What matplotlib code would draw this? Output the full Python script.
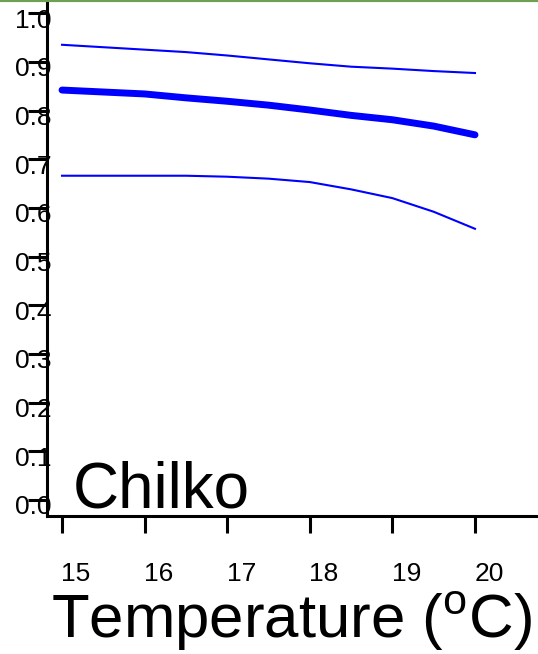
import numpy as np
import matplotlib.pyplot as plt
import matplotlib.transforms as mtransforms
from matplotlib.lines import Line2D

plt.rcParams['font.family'] = ['Liberation Sans', 'DejaVu Sans']
plt.rcParams['mathtext.fontset'] = 'custom'
plt.rcParams['mathtext.rm'] = 'Liberation Sans'

# survival estimate and its upper / lower bounds against temperature
temps = [15, 15.5, 16, 16.5, 17, 17.5, 18, 18.5, 19, 19.5, 20]
surv_mid = [0.842, 0.838, 0.834, 0.826, 0.819, 0.811, 0.801, 0.790, 0.781, 0.768, 0.750]
surv_hi = [0.935, 0.930, 0.925, 0.920, 0.913, 0.905, 0.897, 0.890, 0.886, 0.881, 0.877]
surv_lo = [0.666, 0.666, 0.666, 0.666, 0.664, 0.660, 0.653, 0.638, 0.620, 0.592, 0.557]

yticks = [0.0, 0.1, 0.2, 0.3, 0.4, 0.5, 0.6, 0.7, 0.8, 0.9, 1.0]
xticks = [15, 16, 17, 18, 19, 20]
stock = "Chilko"

fig = plt.figure(figsize=(5.38, 6.54), dpi=100)
ax = fig.add_axes([47/538, 138/654, 1 - 47/538, 516/654])

x = np.array(temps)
ax.plot(x, surv_hi, color='#0000ff', lw=1.5)
ax.plot(x, surv_lo, color='#0000ff', lw=1.5)
ax.plot(x, surv_mid, color='#0000ff', lw=5, solid_capstyle='round')

ax.set_xlim(14.818, 20.763)
ax.set_ylim(-0.033, 1.027)

for side in ['top', 'right']:
    ax.spines[side].set_visible(False)
for side in ['left', 'bottom']:
    ax.spines[side].set_linewidth(2.2)

ax.set_yticks(yticks)
ax.set_yticklabels(['%.1f' % v for v in yticks])
ax.set_xticks(xticks)
ax.set_xticklabels([str(v) for v in xticks])
ax.tick_params(axis='y', direction='out', length=14, width=2.2, pad=-17, labelsize=19)
ax.tick_params(axis='x', direction='out', length=12, width=2.2, pad=21, labelsize=19)

# nudge the tick labels like the original layout
dy = mtransforms.ScaledTranslation(0, -5/100, fig.dpi_scale_trans)
for lab in ax.get_yticklabels():
    lab.set_transform(lab.get_transform() + dy)
dx = mtransforms.ScaledTranslation(14/100, 0, fig.dpi_scale_trans)
for lab in ax.get_xticklabels():
    lab.set_transform(lab.get_transform() + dx)

fig.text(73/538, 1 - 508/654, stock, fontsize=46, ha='left', va='baseline')
fig.text(291/538, 1 - 638/654, r'Temperature ($^{\mathrm{o}}$C)', fontsize=44.5,
         ha='center', va='baseline')

fig.add_artist(Line2D([0, 1], [1, 1], transform=fig.transFigure,
                      color='#6f9f52', lw=3))

fig.savefig('out.png', dpi=100)
